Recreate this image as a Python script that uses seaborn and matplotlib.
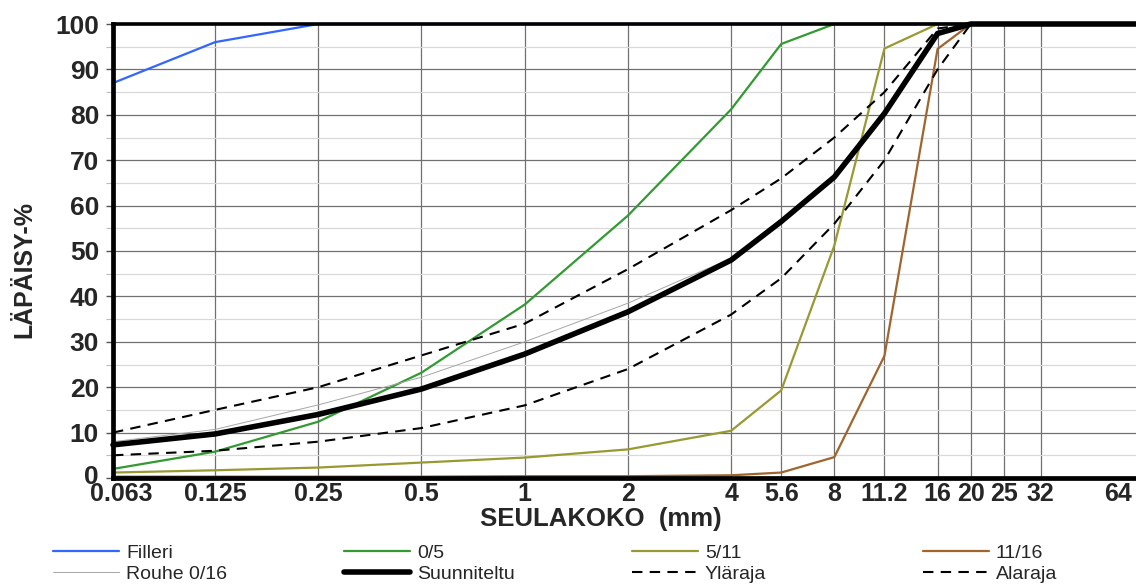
import matplotlib
matplotlib.use("Agg")
import matplotlib.pyplot as plt
import matplotlib.transforms as mtransforms
from matplotlib.ticker import FixedLocator, MultipleLocator, NullFormatter
from matplotlib.lines import Line2D
import seaborn as sns

# Sieve sizes (mm)
sieves = [0.063, 0.125, 0.25, 0.5, 1, 2, 4, 5.6, 8, 11.2, 16, 20, 25, 32, 64]
tick_labels = ["0.063", "0.125", "0.25", "0.5", "1", "2", "4", "5.6", "8",
               "11.2", "16", "20", "25", "32", "64"]

# Passing percentages per material
filleri     = [87.0, 96.0, 100, 100, 100, 100, 100, 100, 100, 100, 100, 100, 100, 100, 100]
fraction_05 = [2.0, 5.8, 12.4, 23.2, 38.2, 57.8, 81.2, 95.6, 100, 100, 100, 100, 100, 100, 100]
fraction_511 = [1.2, 1.7, 2.3, 3.4, 4.5, 6.3, 10.4, 19.3, 51.2, 94.6, 100, 100, 100, 100, 100]
fraction_1116 = [0.3, 0.3, 0.3, 0.3, 0.4, 0.4, 0.6, 1.2, 4.6, 26.9, 94.5, 100, 100, 100, 100]
rouhe       = [8.0, 10.7, 16.1, 22.2, 30.0, 38.5, 48.4, 56.6, 66.4, 80.4, 97.9, 100, 100, 100, 100]
suunniteltu = [7.3, 9.7, 14.0, 19.6, 27.3, 36.6, 48.0, 56.5, 66.3, 80.3, 97.9, 100, 100, 100, 100]
ylaraja     = [10, 15, 20, 27, 34, 46, 59, 66, 75, 85, 99, 100, 100, 100, 100]
alaraja     = [5, 6, 8, 11, 16, 24, 36, 44, 56, 70, 90, 100, 100, 100, 100]

W, H, DPI = 1136, 585, 100
sns.set_theme(style="white")
plt.rcParams["font.family"] = ["Liberation Sans", "DejaVu Sans"]

fig = plt.figure(figsize=(W / DPI, H / DPI), dpi=DPI)
ax = fig.add_axes([113 / W, 1 - 478 / H, (1144 - 113) / W, (478 - 24) / H])
ax.set_xscale("log")

dash = (0, (5, 3.5))
series = [
    ("Filleri", filleri, "#3366ff", 1.6, "-"),
    ("0/5", fraction_05, "#339933", 1.6, "-"),
    ("5/11", fraction_511, "#999933", 1.6, "-"),
    ("11/16", fraction_1116, "#a0642d", 1.6, "-"),
    ("Rouhe 0/16", rouhe, "#a6a6a6", 0.7, "-"),
    ("Suunniteltu", suunniteltu, "#000000", 4.0, "-"),
    ("Yläraja", ylaraja, "#000000", 1.5, dash),
    ("Alaraja", alaraja, "#000000", 1.5, dash),
]

handles = {}
for name, vals, color, lw, ls in series:
    sns.lineplot(x=sieves, y=vals, ax=ax, color=color, linewidth=lw,
                 linestyle=ls, clip_on=False, zorder=3)
    handles[name] = Line2D([], [], color=color, linewidth=lw, linestyle=ls)

ax.set_xlim(0.063, 64)
ax.set_ylim(0, 100)

# Axis ticks
ax.xaxis.set_major_locator(FixedLocator(sieves))
ax.xaxis.set_minor_locator(FixedLocator([]))
ax.set_xticklabels(tick_labels)
ax.xaxis.set_minor_formatter(NullFormatter())
ax.yaxis.set_major_locator(FixedLocator(list(range(0, 101, 10))))
ax.yaxis.set_minor_locator(MultipleLocator(5))
ax.tick_params(axis="x", which="both", length=0, pad=3, labelsize=18)
ax.tick_params(axis="y", which="major", length=5, width=1, color="#555555",
               pad=5, labelsize=19, left=True)
ax.tick_params(axis="y", which="minor", length=5, width=0.8, color="#bbbbbb", left=True)
for lbl in ax.get_xticklabels() + ax.get_yticklabels():
    lbl.set_fontweight("bold")

# Nudge corner labels so they stay clear of each other and the canvas edge
def nudge(label, dx, dy):
    label.set_transform(label.get_transform() +
                        mtransforms.ScaledTranslation(dx / DPI, dy / DPI,
                                                      fig.dpi_scale_trans))

xticks = ax.xaxis.get_major_ticks()
yticks = ax.yaxis.get_major_ticks()
nudge(xticks[0].label1, 8, 0)
nudge(xticks[len(sieves) - 1].label1, -26, 0)
nudge(yticks[0].label1, 0, 4)

# Grid
ax.grid(True, which="major", axis="both", color="#707070", linewidth=0.9, zorder=0)
ax.grid(True, which="minor", axis="y", color="#d9d9d9", linewidth=0.9, zorder=0)
ax.set_axisbelow(True)

# Frame
for side, lw in (("left", 3.4), ("bottom", 3.4), ("top", 2.6), ("right", 2.6)):
    ax.spines[side].set_visible(True)
    ax.spines[side].set_color("black")
    ax.spines[side].set_linewidth(lw)
    ax.spines[side].set_zorder(5)

# Axis titles
ax.set_xlabel("SEULAKOKO  (mm)", fontsize=18.5, fontweight="bold")
ax.xaxis.label.set_verticalalignment("center")
ax.xaxis.set_label_coords((601 - 113) / (1144 - 113), (478 - 519) / (478 - 24))
ax.set_ylabel("LÄPÄISY-%", fontsize=18, fontweight="bold")
ax.yaxis.label.set_verticalalignment("center")
ax.yaxis.set_label_coords((24 - 113) / (1144 - 113), (478 - 269) / (478 - 24))

# Legend: four columns of two entries each
columns = [("Filleri", "Rouhe 0/16"), ("0/5", "Suunniteltu"),
           ("5/11", "Yläraja"), ("11/16", "Alaraja")]
col_x = [53, 344, 632, 923]
for (a, b), x0 in zip(columns, col_x):
    fig.legend([handles[a], handles[b]], [a, b], loc="center left",
               bbox_to_anchor=(x0 / W, 1 - 563.5 / H), frameon=False,
               fontsize=14, handlelength=3.4, handletextpad=0.35,
               labelspacing=0.18, borderpad=0, borderaxespad=0)

fig.savefig("out.png", dpi=DPI)
